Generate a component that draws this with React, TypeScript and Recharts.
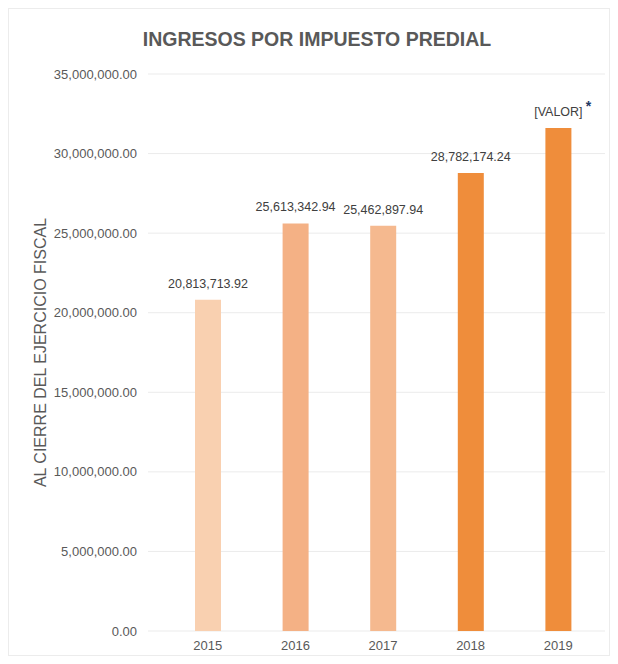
import React from 'react';
import { BarChart, Bar, XAxis, YAxis, CartesianGrid, Cell, LabelList, Label } from 'recharts';

const years = ['2015', '2016', '2017', '2018', '2019'];
const ingresos = [20813713.92, 25613342.94, 25462897.94, 28782174.24, 31600000];
const barLabels = ['20,813,713.92', '25,613,342.94', '25,462,897.94', '28,782,174.24', '[VALOR]'];
const barColors = ['#f9d0b0', '#f4b185', '#f5b98f', '#ef8d3b', '#ef8d3b'];
const yTicks = [0, 5000000, 10000000, 15000000, 20000000, 25000000, 30000000, 35000000];

const data = years.map((year, i) => ({ year, value: ingresos[i], label: barLabels[i] }));

const fmt = (v: number) =>
  v.toLocaleString('en-US', { minimumFractionDigits: 2, maximumFractionDigits: 2 });

const font = '"Liberation Sans", Arial, sans-serif';

const ValueLabel = (props: any) => {
  const { x, y, width, index } = props;
  const cx = x + width / 2;
  const last = index === data.length - 1;
  return (
    <g>
      <text x={cx} y={y - 12} textAnchor="middle" fontSize={12.5} fill="#404040" fontFamily={font}>
        {barLabels[index]}
      </text>
      {last && (
        <text x={cx + 30} y={y - 17} textAnchor="middle" fontSize={14} fontWeight="bold" fill="#1f3864" fontFamily={font}>
          *
        </text>
      )}
    </g>
  );
};

const AxisTitle = (props: any) => {
  const { viewBox } = props;
  const cy = viewBox.y + viewBox.height / 2;
  return (
    <text
      x={31}
      y={cy}
      transform={`rotate(-90, 31, ${cy})`}
      textAnchor="middle"
      dominantBaseline="central"
      fontSize={16}
      fill="#595959"
      fontFamily={font}
    >
      AL CIERRE DEL EJERCICIO FISCAL
    </text>
  );
};

export default function App() {
  return (
    <div style={{ position: 'relative', width: 602, height: 648, border: '1px solid #ececec', boxSizing: 'border-box', background: '#fff' }}>
      <div
        style={{
          position: 'absolute',
          left: 0,
          width: 616,
          top: 19,
          textAlign: 'center',
          fontFamily: font,
          fontWeight: 'bold',
          fontSize: 19.5,
          color: '#595959',
        }}
      >
        INGRESOS POR IMPUESTO PREDIAL
      </div>
      <BarChart
        width={600}
        height={646}
        data={data}
        margin={{ top: 65, right: 4, bottom: 0, left: 0 }}
        barSize={26}
      >
        <CartesianGrid vertical={false} stroke="#ebebeb" />
        <XAxis
          dataKey="year"
          axisLine={false}
          tickLine={false}
          height={24}
          padding={{ left: 16, right: 3 }}
          tick={{ fontSize: 13, fill: '#595959', fontFamily: font }}
          tickMargin={4}
        />
        <YAxis
          width={139}
          domain={[0, 35000000]}
          ticks={yTicks}
          tickFormatter={fmt}
          axisLine={false}
          tickLine={false}
          tickMargin={5}
          tick={{ fontSize: 13, fill: '#595959', fontFamily: font }}
        >
          <Label content={<AxisTitle />} />
        </YAxis>
        <Bar dataKey="value" isAnimationActive={false}>
          {data.map((d, i) => (
            <Cell key={d.year} fill={barColors[i]} />
          ))}
          <LabelList dataKey="label" content={<ValueLabel />} />
        </Bar>
      </BarChart>
    </div>
  );
}
